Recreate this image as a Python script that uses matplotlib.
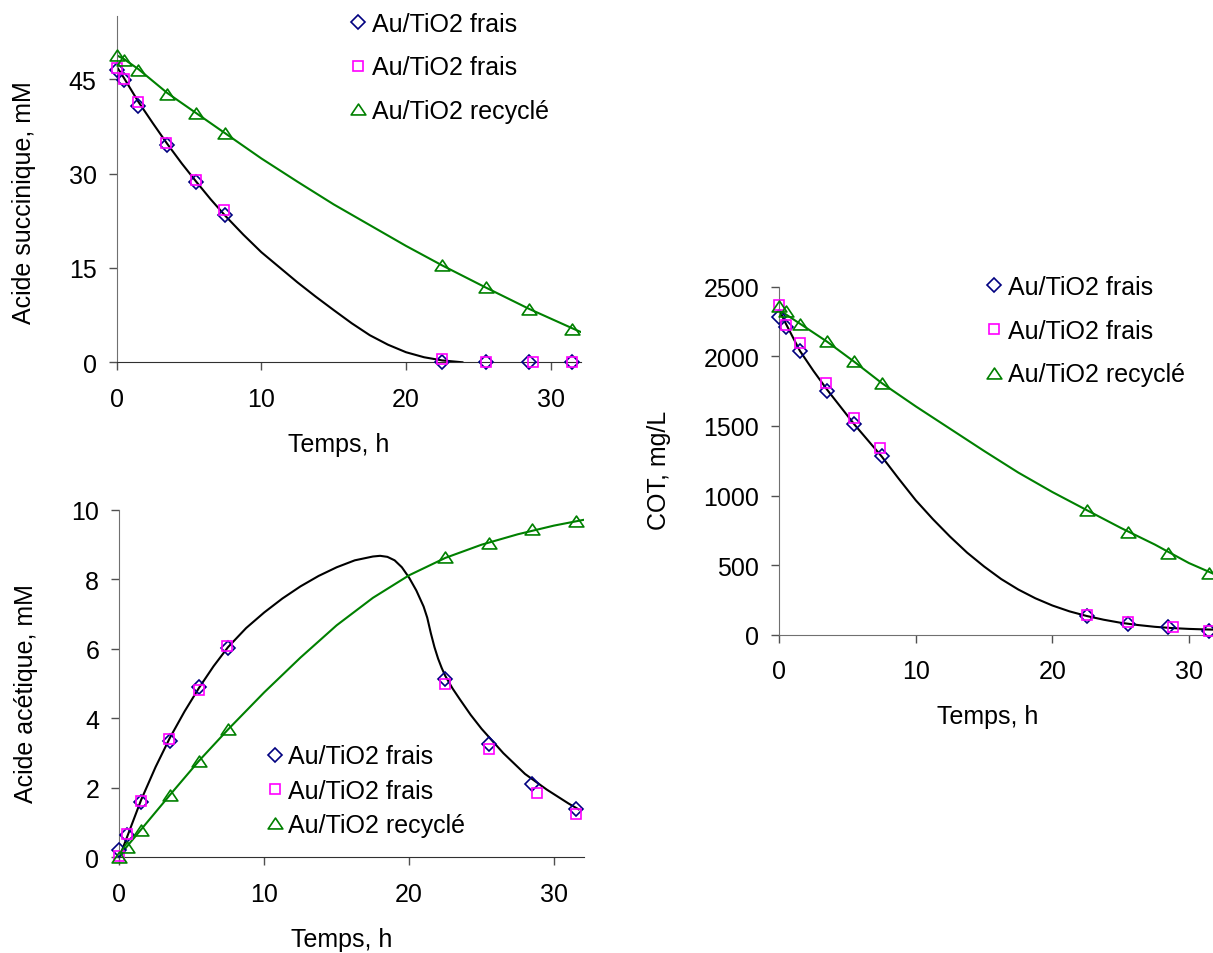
import matplotlib
matplotlib.use("Agg")
import matplotlib.pyplot as plt
from matplotlib.path import Path

plt.rcParams['font.family'] = ['Liberation Sans', 'DejaVu Sans']
plt.rcParams['font.size'] = 18

# temps de prelevement (h)
t_dia = [0, 0.5, 1.5, 3.5, 5.5, 7.5, 22.5, 25.5, 28.5, 31.5]
t_sq = [0, 0.5, 1.5, 3.4, 5.5, 7.4, 22.5, 25.5, 28.8, 31.5]
t_tri = [0, 0.5, 1.5, 3.5, 5.5, 7.5, 22.5, 25.5, 28.5, 31.5]

labels = ['Au/TiO2 frais', 'Au/TiO2 frais', 'Au/TiO2 recyclé']

# acide succinique, mM
suc_dia = [46.5, 44.9, 40.8, 34.5, 28.7, 23.4, 0, 0, 0, 0]
suc_sq = [46.8, 45.1, 41.3, 34.9, 28.9, 24.2, 0.6, 0.1, 0.1, 0.1]
suc_tri = [48.8, 48.1, 46.5, 42.6, 39.7, 36.4, 15.4, 11.9, 8.5, 5.3]
suc_fit_t = [0, 0.5, 1.5, 2.5, 3.5, 4.5, 5.5, 6.5, 7.5, 8.75, 10, 11.25, 12.5,
             13.75, 15, 16.25, 17.5, 18.75, 20, 21.25, 22.5, 23.9]
suc_fit = [47.0, 45.2, 41.4, 38.0, 34.7, 31.6, 28.7, 25.9, 23.3, 20.3, 17.5,
           15.1, 12.7, 10.45, 8.3, 6.2, 4.3, 2.8, 1.6, 0.8, 0.3, 0.0]
suc_rec_t = [0, 0.5, 1.5, 3.5, 5.5, 7.5, 10, 12.5, 15, 17.5, 20, 22.5, 25.5,
             28.5, 31.5, 32.1]
suc_rec = [48.8, 48.2, 46.6, 42.8, 39.6, 36.4, 32.4, 28.7, 25.1, 21.8, 18.5,
           15.4, 11.9, 8.5, 5.4, 4.8]

# acide acetique, mM
ace_dia = [0.2, 0.65, 1.58, 3.35, 4.91, 6.04, 5.14, 3.25, 2.12, 1.39]
ace_sq = [0.05, 0.66, 1.63, 3.4, 4.81, 6.09, 4.98, 3.12, 1.85, 1.26]
ace_tri = [0.0, 0.31, 0.8, 1.8, 2.78, 3.69, 8.65, 9.05, 9.44, 9.69]
ace_fit_t = [0, 0.5, 1, 1.5, 2.5, 3.5, 4.5, 5.5, 6.5, 7.5, 8.75, 10, 11.25,
             12.5, 13.75, 15, 16.25, 17.5, 18, 18.5, 19, 19.5, 20, 20.5, 21,
             21.25, 21.5, 21.75, 22, 22.25, 22.5, 23, 23.5, 24.25, 25, 26.5,
             28, 29.5, 31, 31.7]
ace_fit = [0.0, 0.55, 1.1, 1.65, 2.6, 3.45, 4.2, 4.88, 5.5, 6.05, 6.6, 7.05,
           7.45, 7.8, 8.1, 8.35, 8.55, 8.66, 8.68, 8.65, 8.55, 8.35, 8.05,
           7.68, 7.22, 6.9, 6.45, 6.05, 5.72, 5.45, 5.22, 4.86, 4.55, 4.1, 3.7,
           3.0, 2.4, 1.95, 1.55, 1.38]
ace_rec_t = [0, 0.5, 1.5, 3.5, 5.5, 7.5, 10, 12.5, 15, 17.5, 20, 22.5, 25,
             27.5, 30, 32.1]
ace_rec = [0.0, 0.3, 0.8, 1.8, 2.78, 3.68, 4.75, 5.75, 6.68, 7.47, 8.12, 8.62,
           9.0, 9.3, 9.55, 9.72]

# COT, mg/L
cot_dia = [2280, 2208, 2040, 1753, 1513, 1286, 136, 77, 57, 29]
cot_sq = [2368, 2225, 2093, 1808, 1554, 1339, 141, 89, 53, 29]
cot_tri = [2359, 2323, 2232, 2112, 1963, 1808, 896, 735, 584, 443]
cot_fit_t = [0, 0.5, 1.5, 2.5, 3.5, 4.5, 5.5, 6.5, 7.5, 8.75, 10, 11.25, 12.5,
             13.75, 15, 16.25, 17.5, 18.75, 20, 21.25, 22.5, 23.75, 25, 26.25,
             27.5, 28.75, 30, 31.25, 32.1]
cot_fit = [2330, 2230, 2040, 1895, 1760, 1635, 1510, 1395, 1280, 1120, 965,
           830, 705, 590, 490, 400, 325, 262, 210, 168, 135, 108, 86, 70, 57,
           48, 42, 38, 36]
cot_rec_t = [0, 0.5, 1.5, 3.5, 5.5, 7.5, 10, 12.5, 15, 17.5, 20, 22.5, 25,
             27.5, 30, 32.1]
cot_rec = [2330, 2300, 2235, 2105, 1960, 1808, 1640, 1480, 1320, 1165, 1025,
           896, 768, 648, 515, 425]

navy = '#000080'
magenta = '#FF00FF'
green = '#008000'
tri_marker = Path([(0, 0.74), (-1, -0.74), (1, -0.74), (0, 0.74)], closed=True)


def draw_panel(ax, fit_t, fit, rec_t, rec, dia, sq, tri, ymax, ystep):
    ax.plot(fit_t, fit, color='black', lw=1.5, zorder=2,
            solid_joinstyle='round')
    ax.plot(rec_t, rec, color=green, lw=1.5, zorder=2,
            solid_joinstyle='round')
    h1, = ax.plot(t_dia, dia, ls='none', marker='D', ms=7.3, mfc='none',
                  mec=navy, mew=1.2, clip_on=False, zorder=3)
    h2, = ax.plot(t_sq, sq, ls='none', marker='s', ms=7.8, mfc='none',
                  mec=magenta, mew=1.2, clip_on=False, zorder=4)
    h3, = ax.plot(t_tri, tri, ls='none', marker=tri_marker, ms=10.6,
                  mfc='none', mec=green, mew=1.2, clip_on=False, zorder=5)
    ax.set_xlim(0, 32.1)
    ax.set_ylim(0, ymax)
    ax.set_xticks([0, 10, 20, 30])
    ax.set_yticks(range(0, int(ymax) + 1, ystep))
    for s in ['top', 'right']:
        ax.spines[s].set_visible(False)
    ax.spines['left'].set_color('#707070')
    ax.spines['bottom'].set_color('#303030')
    ax.tick_params(axis='both', direction='out', length=5.5, width=1,
                   color='#505050', labelsize=18)
    ax.tick_params(axis='x', pad=12)
    ax.tick_params(axis='y', pad=9)
    ax.set_xlabel('Temps, h')
    return [h1, h2, h3]


fig = plt.figure(figsize=(12.13, 9.54), dpi=100)

ax1 = fig.add_axes([0.0962, 0.6192, 0.3828, 0.3627])
hs = draw_panel(ax1, suc_fit_t, suc_fit, suc_rec_t, suc_rec,
                suc_dia, suc_sq, suc_tri, 55, 15)
ax1.set_yticks([0, 15, 30, 45])
ax1.set_ylabel('Acide succinique, mM')
ax1.yaxis.set_label_coords(-0.174, 0.465)
ax1.xaxis.set_label_coords(0.479, -0.201)
ax1.legend(hs, labels, loc='center left', bbox_to_anchor=(0.4775, 0.8526),
           frameon=False, borderpad=0, handlelength=0.6, handletextpad=0.25,
           labelspacing=0.79, fontsize=18)

ax2 = fig.add_axes([0.0984, 0.1003, 0.3834, 0.3641])
hs = draw_panel(ax2, ace_fit_t, ace_fit, ace_rec_t, ace_rec,
                ace_dia, ace_sq, ace_tri, 10, 2)
ax2.set_ylabel('Acide acétique, mM')
ax2.yaxis.set_label_coords(-0.175, 0.474)
ax2.xaxis.set_label_coords(0.477, -0.201)
ax2.legend(hs, labels, loc='center left', bbox_to_anchor=(0.2908, 0.1923),
           frameon=False, borderpad=0, handlelength=0.6, handletextpad=0.25,
           labelspacing=0.41, fontsize=18)

ax3 = fig.add_axes([0.6425, 0.3336, 0.3613, 0.3648])
hs = draw_panel(ax3, cot_fit_t, cot_fit, cot_rec_t, cot_rec,
                cot_dia, cot_sq, cot_tri, 2500, 500)
ax3.spines['bottom'].set_color('#707070')
ax3.set_ylabel('COT, mg/L')
ax3.yaxis.set_label_coords(-0.2476, 0.476)
ax3.xaxis.set_label_coords(0.475, -0.199)
ax3.legend(hs, labels, loc='center left', bbox_to_anchor=(0.4445, 0.8736),
           frameon=False, borderpad=0, handlelength=0.6, handletextpad=0.25,
           labelspacing=0.79, fontsize=18)

fig.savefig('out.png', dpi=100)
